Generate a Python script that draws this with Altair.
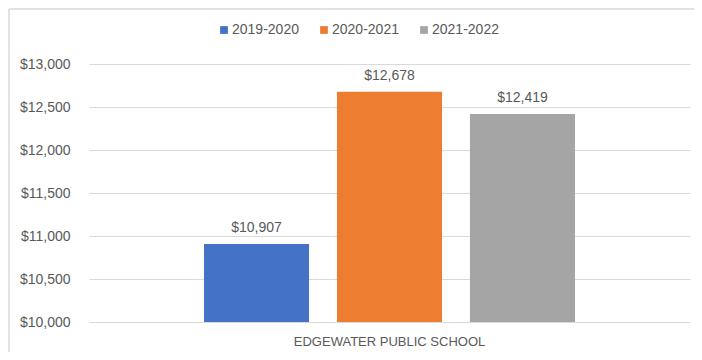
import altair as alt
import pandas as pd

categories = ["EDGEWATER PUBLIC SCHOOL"] * 3
years = ["2019-2020", "2020-2021", "2021-2022"]
values = [10907, 12678, 12419]
colors = ["#4472C4", "#ED7D31", "#A5A5A5"]

df = pd.DataFrame({"school": categories, "year": years, "value": values})

FONT = "Liberation Sans"
TXT = "#595959"

base = alt.Chart(df)

bars = base.mark_bar().encode(
    x=alt.X("school:N", title=None,
            scale=alt.Scale(paddingInner=0, paddingOuter=0.31),
            axis=alt.Axis(labelAngle=0, ticks=False, domain=False, grid=False,
                          labelFontSize=13, labelColor=TXT, labelFont=FONT,
                          labelPadding=13, labelLimit=0)),
    xOffset=alt.XOffset("year:N", scale=alt.Scale(paddingInner=0.21, paddingOuter=0)),
    y=alt.Y("value:Q", title=None,
            scale=alt.Scale(domain=[10000, 13000], zero=False),
            axis=alt.Axis(values=[10000, 10500, 11000, 11500, 12000, 12500, 13000],
                          format="$,.0f", ticks=False, domain=False,
                          labelFontSize=14, labelColor=TXT, labelFont=FONT,
                          labelPadding=19, gridColor="#d9d9d9", gridWidth=1)),
    y2=alt.datum(10000),
    color=alt.Color("year:N", scale=alt.Scale(domain=years, range=colors),
                    legend=alt.Legend(title=None, orient="none", direction="horizontal",
                                      legendX=128, legendY=-41,
                                      symbolType="square", symbolSize=60,
                                      symbolStrokeWidth=0,
                                      labelFontSize=14, labelColor=TXT, labelFont=FONT,
                                      columnPadding=18, labelOffset=1)),
)

labels = base.mark_text(baseline="alphabetic", dy=-12, fontSize=14, color=TXT, font=FONT).encode(
    x=alt.X("school:N"),
    xOffset=alt.XOffset("year:N"),
    y=alt.Y("value:Q"),
    text=alt.Text("value:Q", format="$,.0f"),
)

frame_top = alt.Chart(pd.DataFrame({"a": [0]})).mark_rule(color="#d9d9d9", strokeWidth=1.5).encode(
    x=alt.value(-80), x2=alt.value(615), y=alt.value(-55)
)
frame_left = alt.Chart(pd.DataFrame({"a": [0]})).mark_rule(color="#d9d9d9", strokeWidth=1.5).encode(
    x=alt.value(-80), y=alt.value(-55), y2=alt.value(290)
)

chart = alt.layer(bars, labels, frame_top, frame_left).properties(
    width=601, height=258,
    autosize=alt.AutoSizeParams(type="none"),
    padding={"left": 81, "top": 56, "right": 4, "bottom": 30},
    background="white",
).configure_view(stroke="transparent", strokeWidth=0)

chart.save("out.html", embed_options={"renderer": "svg", "actions": False})
